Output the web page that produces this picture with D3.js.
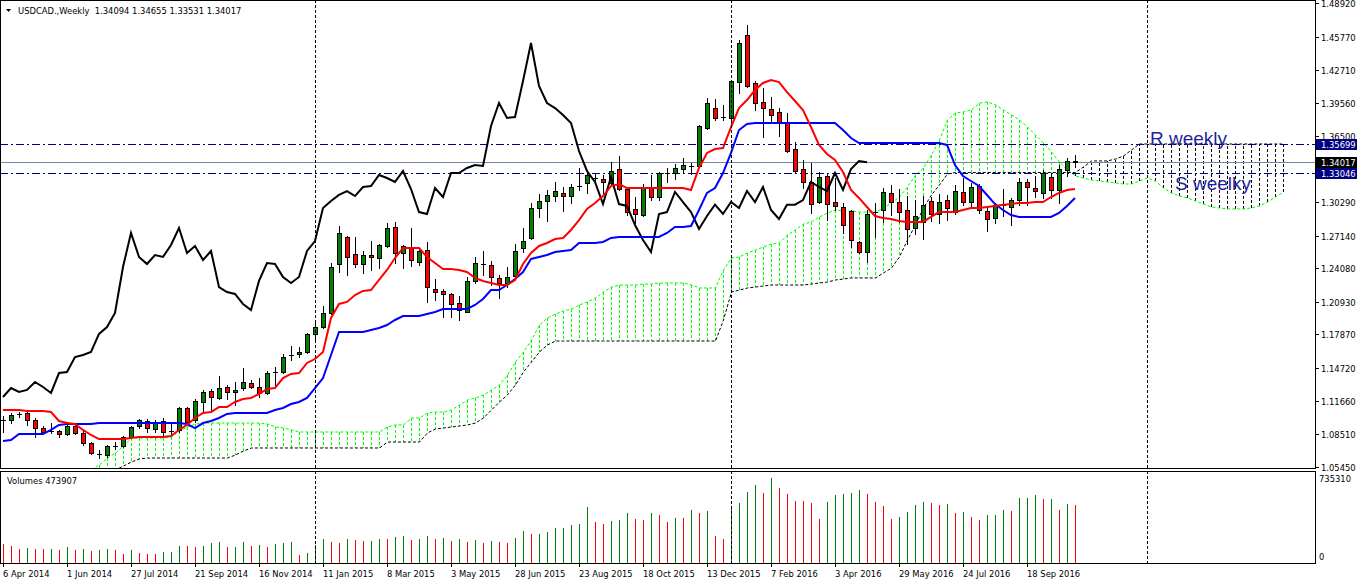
<!DOCTYPE html>
<html>
<head>
<meta charset="utf-8">
<script src="https://cdn.jsdelivr.net/npm/d3@7"></script>
<style>
    body { margin: 0; background: #ffffff; }
    svg { display: block; font-family: "DejaVu Sans", sans-serif; }
</style>
</head>
<body>
<div id="chart"></div>
<script>
// USDCAD weekly, 135 candles starting 6 Apr 2014
const opens = [
    1.0990, 1.0985, 1.1042, 1.1051, 1.0985, 1.0910, 1.0882, 1.0882, 1.0854, 1.0929,
    1.0864, 1.0770, 1.0667, 1.0657, 1.0742, 1.0742, 1.0826, 1.0929, 1.0976, 1.0901,
    1.0976, 1.0882, 1.0892, 1.1098, 1.0985, 1.1154, 1.1257, 1.1192, 1.1295, 1.1248,
    1.1285, 1.1332, 1.1295, 1.1239, 1.1435, 1.1435, 1.1595, 1.1604, 1.1623, 1.1792,
    1.1857, 1.1989, 1.2448, 1.2701, 1.2542, 1.2448, 1.2532, 1.2504, 1.2617, 1.2795,
    1.2551, 1.2607, 1.2467, 1.2579, 1.2214, 1.2195, 1.2167, 1.2082, 1.1998, 1.2289,
    1.2448, 1.2439, 1.2317, 1.2270, 1.2335, 1.2598, 1.2692, 1.2973, 1.3039, 1.3085,
    1.3114, 1.3085, 1.3179, 1.3207, 1.3254, 1.3245, 1.3207, 1.3339, 1.3151, 1.2964,
    1.2907, 1.3160, 1.3076, 1.3301, 1.3301, 1.3339, 1.3367, 1.3367, 1.3723, 1.3910,
    1.3826, 1.3817, 1.4154, 1.4595, 1.4145, 1.3967, 1.3901, 1.3873, 1.3779, 1.3526,
    1.3339, 1.3217, 1.3029, 1.3273, 1.3029, 1.2982, 1.2945, 1.2654, 1.2560, 1.2935,
    1.2954, 1.3114, 1.3029, 1.2954, 1.2785, 1.2842, 1.3039, 1.2917, 1.3048, 1.2935,
    1.3123, 1.3029, 1.3179, 1.2945, 1.2879, 1.3004, 1.2982, 1.3048, 1.3217, 1.3160,
    1.3114, 1.3264, 1.3142, 1.3329, 1.34094
];
const highs = [
    1.1023, 1.1051, 1.1060, 1.1060, 1.1004, 1.0929, 1.0957, 1.0892, 1.0967, 1.0948,
    1.0892, 1.0779, 1.0704, 1.0751, 1.0779, 1.0835, 1.0929, 1.0995, 1.0995, 1.0985,
    1.1004, 1.0948, 1.1107, 1.1107, 1.1182, 1.1267, 1.1276, 1.1398, 1.1314, 1.1342,
    1.1473, 1.1360, 1.1379, 1.1445, 1.1482, 1.1604, 1.1679, 1.1670, 1.1801, 1.1904,
    1.2054, 1.2457, 1.2804, 1.2710, 1.2701, 1.2570, 1.2663, 1.2635, 1.2832, 1.2842,
    1.2626, 1.2785, 1.2598, 1.2654, 1.2307, 1.2214, 1.2176, 1.2148, 1.2326, 1.2514,
    1.2570, 1.2476, 1.2345, 1.2420, 1.2635, 1.2785, 1.3020, 1.3104, 1.3142, 1.3217,
    1.3170, 1.3198, 1.3348, 1.3329, 1.3301, 1.3282, 1.3404, 1.3460, 1.3160, 1.3076,
    1.3198, 1.3282, 1.3310, 1.3348, 1.3385, 1.3442, 1.3395, 1.3751, 1.4004, 1.3995,
    1.3939, 1.4173, 1.4548, 1.4689, 1.4164, 1.4098, 1.4014, 1.3910, 1.3864, 1.3592,
    1.3423, 1.3395, 1.3310, 1.3292, 1.3254, 1.3020, 1.2954, 1.2663, 1.2954, 1.3020,
    1.3160, 1.3189, 1.3151, 1.3085, 1.3048, 1.3085, 1.3076, 1.3104, 1.3095, 1.3189,
    1.3254, 1.3207, 1.3198, 1.2982, 1.3020, 1.3151, 1.3067, 1.3254, 1.3245, 1.3273,
    1.3329, 1.3301, 1.3376, 1.3442, 1.34655
];
const lows = [
    1.0873, 1.0957, 1.1014, 1.0939, 1.0826, 1.0864, 1.0864, 1.0826, 1.0845, 1.0854,
    1.0751, 1.0667, 1.0629, 1.0639, 1.0714, 1.0732, 1.0817, 1.0910, 1.0873, 1.0873,
    1.0845, 1.0845, 1.0873, 1.0948, 1.0967, 1.1070, 1.1079, 1.1182, 1.1182, 1.1126,
    1.1267, 1.1285, 1.1201, 1.1229, 1.1314, 1.1426, 1.1548, 1.1576, 1.1614, 1.1717,
    1.1848, 1.1979, 1.2373, 1.2345, 1.2420, 1.2364, 1.2392, 1.2410, 1.2607, 1.2457,
    1.2410, 1.2429, 1.2439, 1.2092, 1.2110, 1.1951, 1.1951, 1.1923, 1.1998, 1.2270,
    1.2345, 1.2251, 1.2129, 1.2232, 1.2326, 1.2560, 1.2682, 1.2889, 1.2851, 1.3039,
    1.2945, 1.3020, 1.3142, 1.3114, 1.3207, 1.3114, 1.3189, 1.3142, 1.2907, 1.2832,
    1.2898, 1.3048, 1.3048, 1.3217, 1.3245, 1.3301, 1.3292, 1.3357, 1.3714, 1.3798,
    1.3798, 1.3732, 1.4051, 1.4107, 1.3892, 1.3639, 1.3779, 1.3648, 1.3498, 1.3310,
    1.3160, 1.2926, 1.3020, 1.2860, 1.2954, 1.2739, 1.2607, 1.2551, 1.2467, 1.2701,
    1.2842, 1.2907, 1.2842, 1.2635, 1.2729, 1.2682, 1.2851, 1.2832, 1.2860, 1.2917,
    1.3004, 1.2973, 1.2926, 1.2757, 1.2832, 1.2898, 1.2814, 1.3004, 1.3004, 1.3076,
    1.3067, 1.3067, 1.3020, 1.3273, 1.33531
];
const closes = [
    1.0990, 1.1032, 1.1042, 1.0985, 1.0910, 1.0873, 1.0882, 1.0854, 1.0929, 1.0864,
    1.0770, 1.0676, 1.0667, 1.0742, 1.0742, 1.0826, 1.0920, 1.0985, 1.0910, 1.0957,
    1.0873, 1.0882, 1.1098, 1.0967, 1.1164, 1.1248, 1.1201, 1.1285, 1.1248, 1.1267,
    1.1342, 1.1295, 1.1239, 1.1426, 1.1435, 1.1576, 1.1595, 1.1623, 1.1792, 1.1857,
    1.1989, 1.2420, 1.2739, 1.2514, 1.2448, 1.2532, 1.2514, 1.2626, 1.2785, 1.2551,
    1.2617, 1.2485, 1.2570, 1.2232, 1.2185, 1.2167, 1.2073, 1.2017, 1.2289, 1.2457,
    1.2448, 1.2326, 1.2270, 1.2326, 1.2570, 1.2663, 1.2973, 1.3039, 1.3095, 1.3132,
    1.3085, 1.3170, 1.3179, 1.3282, 1.3254, 1.3217, 1.3320, 1.3151, 1.2935, 1.2917,
    1.3160, 1.3076, 1.3301, 1.3301, 1.3348, 1.3376, 1.3367, 1.3742, 1.3957, 1.3817,
    1.3826, 1.4164, 1.4520, 1.4117, 1.3957, 1.3910, 1.3845, 1.3770, 1.3507, 1.3320,
    1.3217, 1.3010, 1.3264, 1.3010, 1.2992, 1.2814, 1.2673, 1.2560, 1.2917, 1.2935,
    1.3123, 1.3029, 1.2935, 1.2776, 1.2898, 1.3004, 1.2917, 1.3029, 1.2973, 1.3132,
    1.3029, 1.3170, 1.2954, 1.2870, 1.3004, 1.3004, 1.3048, 1.3217, 1.3170, 1.3132,
    1.3301, 1.3142, 1.3339, 1.3414, 1.34017
];
const volumes = [
    155000, 141000, 114000, 120000, 114000, 112000, 116000, 106000, 133000, 106000,
    114000, 101000, 106000, 114000, 106000, 74000, 106000, 79000, 74000, 72000,
    90000, 92000, 139000, 137000, 133000, 139000, 161000, 172000, 131000, 133000,
    172000, 141000, 147000, 133000, 155000, 163000, 172000, 63000, 82000, 150000,
    199000, 172000, 161000, 196000, 185000, 177000, 180000, 196000, 192000, 213000,
    217000, 188000, 192000, 221000, 196000, 204000, 180000, 196000, 172000, 188000,
    164000, 180000, 172000, 164000, 206000, 259000, 234000, 236000, 251000, 284000,
    286000, 308000, 316000, 455000, 333000, 316000, 341000, 349000, 406000, 357000,
    355000, 406000, 390000, 333000, 368000, 366000, 431000, 406000, 422000, 218000,
    194000, 455000, 490000, 580000, 637000, 572000, 694000, 613000, 564000, 507000,
    505000, 490000, 357000, 498000, 556000, 564000, 572000, 596000, 564000, 498000,
    466000, 357000, 376000, 417000, 474000, 498000, 490000, 474000, 482000, 406000,
    417000, 376000, 349000, 390000, 392000, 431000, 422000, 531000, 533000, 556000,
    523000, 525000, 431000, 482000, 473907
];

// Ichimoku lines
const tenkan = [
    1.1079, 1.1079, 1.1079, 1.1070, 1.1070, 1.1070, 1.1060, 1.0976, 1.0957, 1.0948,
    1.0892, 1.0845, 1.0807, 1.0807, 1.0807, 1.0807, 1.0817, 1.0826, 1.0826, 1.0826,
    1.0826, 1.0835, 1.0892, 1.0939, 1.1004, 1.1051, 1.1060, 1.1107, 1.1107, 1.1154,
    1.1182, 1.1192, 1.1229, 1.1276, 1.1285, 1.1379, 1.1417, 1.1426, 1.1520, 1.1557,
    1.1623, 1.1942, 1.2073, 1.2092, 1.2157, 1.2195, 1.2204, 1.2298, 1.2392, 1.2504,
    1.2598, 1.2598, 1.2598, 1.2514, 1.2457, 1.2401, 1.2401, 1.2392, 1.2373, 1.2317,
    1.2289, 1.2270, 1.2251, 1.2251, 1.2298, 1.2448, 1.2551, 1.2617, 1.2645, 1.2682,
    1.2692, 1.2767, 1.2860, 1.2964, 1.3020, 1.3085, 1.3179, 1.3198, 1.3160, 1.3160,
    1.3160, 1.3160, 1.3160, 1.3160, 1.3160, 1.3160, 1.3142, 1.3348, 1.3489, 1.3526,
    1.3535, 1.3732, 1.3910, 1.3985, 1.4079, 1.4145, 1.4173, 1.4154, 1.4060, 1.3976,
    1.3892, 1.3732, 1.3564, 1.3479, 1.3423, 1.3310, 1.3142, 1.3067, 1.2982, 1.2898,
    1.2879, 1.2870, 1.2851, 1.2842, 1.2842, 1.2842, 1.2889, 1.2935, 1.2935, 1.2935,
    1.2954, 1.2973, 1.2973, 1.2982, 1.2992, 1.3004, 1.3010, 1.3020, 1.3020, 1.3029,
    1.3029, 1.3076, 1.3114, 1.3142, 1.3151
];
const kijun = [
    1.0789, 1.0798, 1.0854, 1.0854, 1.0854, 1.0854, 1.0892, 1.0939, 1.0948, 1.0948,
    1.0948, 1.0948, 1.0957, 1.0957, 1.0957, 1.0957, 1.0957, 1.0957, 1.0957, 1.0957,
    1.0957, 1.0957, 1.0957, 1.0948, 1.0910, 1.0957, 1.0976, 1.1004, 1.1042, 1.1051,
    1.1051, 1.1051, 1.1051, 1.1051, 1.1079, 1.1098, 1.1135, 1.1154, 1.1192, 1.1285,
    1.1379, 1.1595, 1.1810, 1.1810, 1.1810, 1.1810, 1.1829, 1.1848, 1.1876, 1.1923,
    1.1960, 1.1960, 1.1960, 1.1979, 1.1998, 1.2026, 1.2026, 1.2026, 1.2026, 1.2064,
    1.2120, 1.2204, 1.2204, 1.2251, 1.2307, 1.2373, 1.2495, 1.2514, 1.2532, 1.2560,
    1.2570, 1.2579, 1.2645, 1.2645, 1.2645, 1.2654, 1.2692, 1.2701, 1.2701, 1.2701,
    1.2701, 1.2701, 1.2701, 1.2739, 1.2795, 1.2795, 1.2804, 1.2954, 1.3114, 1.3160,
    1.3301, 1.3489, 1.3704, 1.3760, 1.3770, 1.3770, 1.3770, 1.3770, 1.3770, 1.3770,
    1.3770, 1.3770, 1.3770, 1.3770, 1.3770, 1.3704, 1.3629, 1.3582, 1.3582, 1.3582,
    1.3582, 1.3582, 1.3582, 1.3582, 1.3582, 1.3582, 1.3582, 1.3582, 1.3564, 1.3376,
    1.3273, 1.3226, 1.3179, 1.3095, 1.3010, 1.2954, 1.2907, 1.2889, 1.2889, 1.2889,
    1.2889, 1.2889, 1.2926, 1.2992, 1.3067
];
// Senkou spans start at bar 11 and run 26 bars past the last candle
const senkouStart = 11;
const senkouA = [
    1.0517, 1.0564, 1.0629, 1.0676, 1.0742, 1.0817, 1.0817, 1.0817, 1.0817, 1.0817,
    1.0826, 1.0882, 1.0920, 1.0948, 1.0957, 1.0957, 1.0957, 1.0957, 1.0957, 1.0957,
    1.0957, 1.0957, 1.0948, 1.0920, 1.0910, 1.0892, 1.0873, 1.0873, 1.0873, 1.0873,
    1.0873, 1.0873, 1.0873, 1.0873, 1.0873, 1.0873, 1.0873, 1.0920, 1.0939, 1.0939,
    1.1004, 1.1004, 1.1051, 1.1060, 1.1060, 1.1079, 1.1126, 1.1173, 1.1192, 1.1220,
    1.1267, 1.1314, 1.1407, 1.1529, 1.1623, 1.1735, 1.1876, 1.1942, 1.1979, 1.2007,
    1.2026, 1.2064, 1.2092, 1.2129, 1.2185, 1.2232, 1.2251, 1.2251, 1.2251, 1.2260,
    1.2260, 1.2270, 1.2270, 1.2270, 1.2270, 1.2251, 1.2223, 1.2223, 1.2223, 1.2392,
    1.2504, 1.2514, 1.2551, 1.2579, 1.2607, 1.2635, 1.2645, 1.2720, 1.2767, 1.2823,
    1.2842, 1.2889, 1.2926, 1.2954, 1.2945, 1.2945, 1.2935, 1.2935, 1.2935, 1.2973,
    1.3020, 1.3076, 1.3170, 1.3282, 1.3348, 1.3470, 1.3610, 1.3798, 1.3864, 1.3873,
    1.3892, 1.3957, 1.3967, 1.3939, 1.3892, 1.3845, 1.3798, 1.3732, 1.3657, 1.3582,
    1.3498, 1.3404, 1.3329, 1.3273, 1.3254, 1.3235, 1.3226, 1.3217, 1.3207, 1.3198,
    1.3198, 1.3226, 1.3254, 1.3226, 1.3160, 1.3114, 1.3085, 1.3067, 1.3039, 1.3010,
    1.2982, 1.2973, 1.2964, 1.2964, 1.2964, 1.2973, 1.2992, 1.3029, 1.3076, 1.3123
];
const senkouB = [
    1.0423, 1.0451, 1.0479, 1.0517, 1.0554, 1.0592, 1.0620, 1.0629, 1.0629, 1.0629,
    1.0629, 1.0629, 1.0629, 1.0629, 1.0629, 1.0629, 1.0629, 1.0629, 1.0657, 1.0695,
    1.0723, 1.0723, 1.0723, 1.0723, 1.0723, 1.0723, 1.0723, 1.0723, 1.0723, 1.0723,
    1.0723, 1.0723, 1.0723, 1.0723, 1.0723, 1.0723, 1.0723, 1.0779, 1.0779, 1.0779,
    1.0779, 1.0779, 1.0864, 1.0901, 1.0910, 1.0920, 1.0929, 1.0939, 1.0957, 1.1004,
    1.1079, 1.1154, 1.1220, 1.1314, 1.1435, 1.1529, 1.1623, 1.1689, 1.1726, 1.1726,
    1.1726, 1.1726, 1.1726, 1.1726, 1.1726, 1.1726, 1.1726, 1.1726, 1.1726, 1.1726,
    1.1726, 1.1726, 1.1726, 1.1726, 1.1726, 1.1726, 1.1726, 1.1726, 1.1726, 1.1923,
    1.2185, 1.2204, 1.2223, 1.2232, 1.2242, 1.2251, 1.2251, 1.2251, 1.2251, 1.2251,
    1.2260, 1.2270, 1.2279, 1.2298, 1.2307, 1.2317, 1.2317, 1.2317, 1.2317, 1.2364,
    1.2410, 1.2514, 1.2673, 1.2814, 1.2973, 1.3095, 1.3189, 1.3292, 1.3306, 1.3306,
    1.3306, 1.3306, 1.3306, 1.3306, 1.3306, 1.3306, 1.3306, 1.3306, 1.3306, 1.3306,
    1.3306, 1.3306, 1.3306, 1.3306, 1.3357, 1.3414, 1.3414, 1.3414, 1.3432, 1.3460,
    1.3517, 1.3573, 1.3573, 1.3573, 1.3573, 1.3573, 1.3573, 1.3573, 1.3573, 1.3573,
    1.3573, 1.3573, 1.3573, 1.3573, 1.3573, 1.3573, 1.3573, 1.3573, 1.3573, 1.3573
];
const chikouShift = 26;

const dateLabels = ["6 Apr 2014", "1 Jun 2014", "27 Jul 2014", "21 Sep 2014", "16 Nov 2014",
    "11 Jan 2015", "8 Mar 2015", "3 May 2015", "28 Jun 2015", "23 Aug 2015", "18 Oct 2015",
    "13 Dec 2015", "7 Feb 2016", "3 Apr 2016", "29 May 2016", "24 Jul 2016", "18 Sep 2016"];
const dateStep = 8;
const yearStarts = [39, 91, 143];
const priceTicks = [1.48920, 1.45770, 1.42710, 1.39560, 1.36500, 1.30290, 1.27140,
    1.24080, 1.20930, 1.17870, 1.14720, 1.11660, 1.08510, 1.05450];
const levelValues = [1.35699, 1.33046];
const levelNames = ["R weekly", "S weelky"];
const volumeMax = 735310;

// ---- layout
const W = 1358, H = 584;
const plotRight = 1315, mainBottom = 468, volTop = 471, volBottom = 563;

const svg = d3.select("#chart").append("svg")
    .attr("width", W).attr("height", H);

const x = d3.scaleLinear().domain([0, 160]).range([3, 1283]);
const y = d3.scaleLinear().domain([1.05354, 1.49229]).range([mainBottom, 0]);
const yv = d3.scaleLinear().domain([0, volumeMax]).range([volBottom, 473]);
const px = i => Math.round(x(i));
const crisp = v => Math.round(v) + 0.5;

const defs = svg.append("defs");
defs.append("clipPath").attr("id", "clipMain")
    .append("rect").attr("x", 1).attr("y", 1).attr("width", plotRight - 1).attr("height", mainBottom - 1);
defs.append("clipPath").attr("id", "clipVol")
    .append("rect").attr("x", 1).attr("y", volTop + 1).attr("width", plotRight - 1).attr("height", volBottom - volTop - 1);

const main = svg.append("g").attr("clip-path", "url(#clipMain)");
const vol = svg.append("g").attr("clip-path", "url(#clipVol)");

// year separators
yearStarts.forEach(i => {
    [[0, mainBottom], [volTop, volBottom]].forEach(([a, b]) => {
        svg.append("line")
            .attr("x1", px(i) + 0.5).attr("x2", px(i) + 0.5)
            .attr("y1", a).attr("y2", b)
            .attr("stroke", "#000").attr("stroke-dasharray", "3,2");
    });
});

// cloud hatching
senkouA.forEach((a, k) => {
    const b = senkouB[k];
    const i = senkouStart + k;
    main.append("line")
        .attr("x1", px(i) + 0.5).attr("x2", px(i) + 0.5)
        .attr("y1", y(a)).attr("y2", y(b))
        .attr("stroke", a >= b ? "#00ff00" : "#000000")
        .attr("stroke-width", 1)
        .attr("stroke-dasharray", "3,2");
});

const senkouLine = d3.line()
    .x((d, k) => px(senkouStart + k) + 0.5)
    .y(d => y(d));
main.append("path").datum(senkouA).attr("d", senkouLine)
    .attr("fill", "none").attr("stroke", "#00ff00").attr("stroke-dasharray", "3,2");
main.append("path").datum(senkouB).attr("d", senkouLine)
    .attr("fill", "none").attr("stroke", "#000").attr("stroke-dasharray", "3,2");

// horizontal levels
levelValues.forEach(v => {
    main.append("line")
        .attr("x1", 0).attr("x2", plotRight)
        .attr("y1", crisp(y(v))).attr("y2", crisp(y(v)))
        .attr("stroke", "#000080").attr("stroke-dasharray", "8,3,2,3");
});
const lastClose = closes[closes.length - 1];
main.append("line")
    .attr("x1", 0).attr("x2", plotRight)
    .attr("y1", crisp(y(lastClose))).attr("y2", crisp(y(lastClose)))
    .attr("stroke", "#778899");

// candles
closes.forEach((c, i) => {
    const o = opens[i];
    const xi = px(i);
    main.append("line")
        .attr("x1", xi + 0.5).attr("x2", xi + 0.5)
        .attr("y1", Math.round(y(highs[i]))).attr("y2", Math.round(y(lows[i])) + 1)
        .attr("stroke", "#000");
    const top = Math.round(y(Math.max(o, c)));
    const bot = Math.round(y(Math.min(o, c)));
    if (bot - top < 1) {
        main.append("line")
            .attr("x1", xi - 2).attr("x2", xi + 3)
            .attr("y1", top + 0.5).attr("y2", top + 0.5)
            .attr("stroke", "#000");
    } else {
        main.append("rect")
            .attr("x", xi - 1.5).attr("y", top + 0.5)
            .attr("width", 4).attr("height", bot - top)
            .attr("fill", c > o ? "#008000" : "#ff0000")
            .attr("stroke", "#000");
    }
});

// indicator lines
const chikou = closes.slice(chikouShift);
main.append("path").datum(chikou)
    .attr("d", d3.line().x((d, j) => x(j)).y(d => y(d)))
    .attr("fill", "none").attr("stroke", "#000").attr("stroke-width", 2);
main.append("path").datum(kijun)
    .attr("d", d3.line().x((d, i) => x(i)).y(d => y(d)))
    .attr("fill", "none").attr("stroke", "#0000ff").attr("stroke-width", 2);
main.append("path").datum(tenkan)
    .attr("d", d3.line().x((d, i) => x(i)).y(d => y(d)))
    .attr("fill", "none").attr("stroke", "#ff0000").attr("stroke-width", 2);

// level captions
levelNames.forEach((name, k) => {
    main.append("text")
        .attr("x", k === 0 ? 1150 : 1175)
        .attr("y", k === 0 ? y(levelValues[k]) + 1 : y(levelValues[k]) + 17)
        .attr("font-family", "Liberation Sans, Arial, sans-serif")
        .attr("font-size", 19)
        .attr("fill", "#1f1f9c")
        .text(name);
});

// volumes
volumes.forEach((v, i) => {
    const up = i > 0 && v > volumes[i - 1];
    vol.append("line")
        .attr("x1", px(i) + 0.5).attr("x2", px(i) + 0.5)
        .attr("y1", volBottom).attr("y2", Math.round(yv(v)))
        .attr("stroke", up ? "#008000" : "#ff0000");
});

// frames
svg.append("rect").attr("x", 0.5).attr("y", 0.5)
    .attr("width", plotRight).attr("height", mainBottom)
    .attr("fill", "none").attr("stroke", "#000");
svg.append("rect").attr("x", 0.5).attr("y", volTop + 0.5)
    .attr("width", plotRight).attr("height", volBottom - volTop)
    .attr("fill", "none").attr("stroke", "#000");

const fs = 8.4;

// price axis
priceTicks.forEach(p => {
    const yy = crisp(y(p));
    svg.append("line").attr("x1", plotRight).attr("x2", plotRight + 4)
        .attr("y1", yy).attr("y2", yy).attr("stroke", "#000");
    svg.append("text").attr("x", plotRight + 6).attr("y", yy + 3.5)
        .attr("font-size", fs).text(p.toFixed(5));
});

// price tags
[[levelValues[0], "#000080"], [lastClose, "#000000"], [levelValues[1], "#000080"]].forEach(([p, col]) => {
    const yy = Math.round(y(p));
    svg.append("rect").attr("x", plotRight + 1).attr("y", yy - 5)
        .attr("width", 41).attr("height", 11).attr("fill", col);
    svg.append("text").attr("x", plotRight + 6).attr("y", yy + 4)
        .attr("font-size", fs).attr("fill", "#fff").text(p.toFixed(5));
});

// volume axis
svg.append("text").attr("x", plotRight + 4).attr("y", 482).attr("font-size", fs).text(volumeMax);
svg.append("text").attr("x", plotRight + 4).attr("y", 560).attr("font-size", fs).text("0");

// date axis
dateLabels.forEach((d, k) => {
    const xi = px(k * dateStep);
    svg.append("line").attr("x1", xi + 0.5).attr("x2", xi + 0.5)
        .attr("y1", volBottom).attr("y2", volBottom + 4).attr("stroke", "#000");
    svg.append("text").attr("x", xi).attr("y", 577).attr("font-size", fs).text(d);
});

// titles
svg.append("path").attr("d", "M6,9 L11,9 L8.5,12 Z").attr("fill", "#000");
svg.append("text").attr("x", 18).attr("y", 14).attr("font-size", fs)
    .attr("xml:space", "preserve")
    .text("USDCAD.,Weekly  " + [opens[134], highs[134], lows[134], closes[134]].map(v => v.toFixed(5)).join(" "));
svg.append("text").attr("x", 7).attr("y", 484).attr("font-size", fs)
    .text("Volumes " + volumes[volumes.length - 1]);
</script>
</body>
</html>
